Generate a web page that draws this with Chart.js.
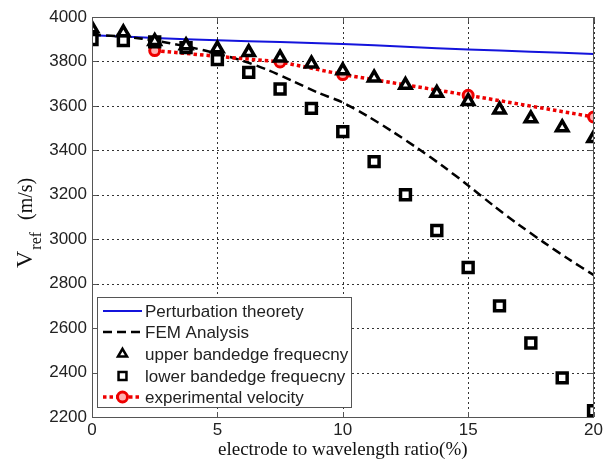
<!DOCTYPE html>
<html>
<head>
<meta charset="utf-8">
<script src="https://cdn.jsdelivr.net/npm/chart.js@4"></script>
<style>
  html, body { margin: 0; padding: 0; background: #fff; }
  #wrap { width: 606px; height: 463px; }
</style>
</head>
<body>
<div id="wrap"><canvas id="velChart" width="606" height="463"></canvas></div>
<script>
// ratio (%) values
const theoryRatio = [0, 2.5, 5, 7.5, 10, 12.5, 15, 17.5, 20];
const theoryVel   = [3918, 3906, 3895, 3887, 3879, 3866, 3854, 3844, 3834];

const femRatio = [0, 1, 2, 3, 4, 5, 6, 7, 8, 9, 10, 11, 12, 13, 14, 15, 16, 17, 18, 19, 20];
const femVel   = [3920, 3914, 3902, 3884, 3862, 3835, 3803, 3762, 3712, 3660, 3615, 3553, 3483, 3408, 3328, 3242, 3152, 3067, 2987, 2911, 2839];

const bandRatio = [0, 1.25, 2.5, 3.75, 5, 6.25, 7.5, 8.75, 10, 11.25, 12.5, 13.75, 15, 16.25, 17.5, 18.75, 20];
const upperVel  = [3948, 3930, 3891, 3872, 3858, 3841, 3817, 3790, 3759, 3727, 3694, 3658, 3621, 3583, 3543, 3503, 3454];
const lowerVel  = [3899, 3894, 3888, 3862, 3808, 3751, 3676, 3589, 3484, 3349, 3200, 3039, 2873, 2700, 2533, 2376, 2228];

const expRatio = [2.5, 5, 7.5, 10, 15, 20];
const expVel   = [3849, 3823, 3798, 3741, 3648, 3550];

const xTicks = [0, 5, 10, 15, 20];
const yTicks = [2200, 2400, 2600, 2800, 3000, 3200, 3400, 3600, 3800, 4000];

const pts = (xs, ys) => xs.map((x, i) => ({ x, y: ys[i] }));

const SANS = "'Liberation Sans', Arial, sans-serif";
const SERIF = "'Liberation Serif', 'Times New Roman', serif";

// dotted matlab grid + box
const gridBox = {
    id: "gridBox",
    beforeDatasetsDraw(chart) {
        const { ctx, chartArea: a, scales } = chart;
        ctx.save();
        ctx.strokeStyle = "#333";
        ctx.lineWidth = 1;
        ctx.setLineDash([2, 3]);
        ctx.beginPath();
        xTicks.forEach(v => {
            const px = Math.round(scales.x.getPixelForValue(v)) + 0.5;
            ctx.moveTo(px, a.top); ctx.lineTo(px, a.bottom);
        });
        yTicks.forEach(v => {
            const py = Math.round(scales.y.getPixelForValue(v)) + 0.5;
            ctx.moveTo(a.left, py); ctx.lineTo(a.right, py);
        });
        ctx.stroke();
        ctx.setLineDash([]);
        // small inward ticks
        ctx.strokeStyle = "#555";
        ctx.beginPath();
        xTicks.forEach(v => {
            const px = Math.round(scales.x.getPixelForValue(v)) + 0.5;
            ctx.moveTo(px, a.bottom); ctx.lineTo(px, a.bottom - 5);
            ctx.moveTo(px, a.top); ctx.lineTo(px, a.top + 5);
        });
        yTicks.forEach(v => {
            const py = Math.round(scales.y.getPixelForValue(v)) + 0.5;
            ctx.moveTo(a.left, py); ctx.lineTo(a.left + 5, py);
            ctx.moveTo(a.right, py); ctx.lineTo(a.right - 5, py);
        });
        ctx.stroke();
        ctx.restore();
    },
    afterDatasetsDraw(chart) {
        const { ctx, chartArea: a } = chart;
        ctx.save();
        ctx.strokeStyle = "#555";
        ctx.lineWidth = 1;
        ctx.strokeRect(Math.round(a.left) + 0.5, Math.round(a.top) + 0.5,
            Math.round(a.right - a.left) - 1, Math.round(a.bottom - a.top));
        ctx.restore();
    }
};

// y title with subscript
const yTitle = {
    id: "yTitle",
    afterDraw(chart) {
        const ctx = chart.ctx;
        ctx.save();
        ctx.translate(32, 268);
        ctx.rotate(-Math.PI / 2);
        ctx.fillStyle = "#111";
        ctx.textBaseline = "alphabetic";
        ctx.textAlign = "left";
        ctx.font = "24px " + SERIF;
        ctx.fillText("V", 0, 0);
        const w = ctx.measureText("V").width;
        ctx.font = "16px " + SERIF;
        ctx.fillText("ref", w + 1, 9);
        ctx.font = "20px " + SERIF;
        ctx.fillText("(m/s)", 48, 0);
        ctx.restore();
    }
};

const drawMarker = (ctx, ds, cx, cy) => {
    ctx.save();
    ctx.fillStyle = ds.pointBackgroundColor;
    ctx.strokeStyle = ds.pointBorderColor;
    ctx.lineWidth = ds.pointBorderWidth;
    ctx.beginPath();
    const r = ds.pointRadius;
    if (ds.pointStyle === "triangle") {
        ctx.moveTo(cx, cy - r);
        ctx.lineTo(cx + r * 0.87, cy + r * 0.5);
        ctx.lineTo(cx - r * 0.87, cy + r * 0.5);
        ctx.closePath();
    } else if (ds.pointStyle === "rect") {
        const s = r * Math.SQRT1_2;
        ctx.rect(cx - s, cy - s, 2 * s, 2 * s);
    } else {
        ctx.arc(cx, cy, r, 0, Math.PI * 2);
    }
    ctx.fill();
    ctx.stroke();
    ctx.restore();
};

// matlab style legend box
const legendBox = {
    id: "legendBox",
    afterDatasetsDraw(chart) {
        const ctx = chart.ctx;
        const x0 = 97, y0 = 297, x1 = 352, y1 = 408;
        ctx.save();
        ctx.fillStyle = "#fff";
        ctx.fillRect(x0, y0, x1 - x0, y1 - y0);
        ctx.strokeStyle = "#555";
        ctx.lineWidth = 1;
        ctx.strokeRect(x0 + 0.5, y0 + 0.5, x1 - x0 - 1, y1 - y0 - 1);
        const rows = [311, 332, 354, 376, 397];
        const sx0 = 103, sx1 = 142, sc = 122.5;
        chart.data.datasets.forEach((ds, i) => {
            const y = rows[i];
            if (ds.showLine) {
                ctx.save();
                ctx.strokeStyle = ds.borderColor;
                ctx.lineWidth = ds.borderWidth;
                ctx.setLineDash(ds.borderDash || []);
                ctx.beginPath();
                ctx.moveTo(sx0, y);
                ctx.lineTo(sx1, y);
                ctx.stroke();
                ctx.restore();
            }
            if (ds.pointRadius > 0) {
                drawMarker(ctx, Object.assign({}, ds, {
                    pointRadius: ds.pointStyle === "circle" ? ds.pointRadius : ds.pointRadius * 0.8,
                    pointBorderWidth: ds.pointStyle === "circle" ? ds.pointBorderWidth : 2.5
                }), sc, y);
            }
            ctx.fillStyle = "#222";
            ctx.font = "17px " + SANS;
            ctx.textAlign = "left";
            ctx.textBaseline = "middle";
            ctx.fillText(ds.label, 145, y + 1);
        });
        ctx.restore();
    }
};

const chart = new Chart(document.getElementById("velChart"), {
    type: "scatter",
    data: {
        datasets: [
            {
                label: "Perturbation theorety",
                data: pts(theoryRatio, theoryVel),
                showLine: true, borderColor: "#1414dc", borderWidth: 2,
                pointRadius: 0, tension: 0.3, order: 4
            },
            {
                label: "FEM Analysis",
                data: pts(femRatio, femVel),
                showLine: true, borderColor: "#000", borderWidth: 2.5, borderDash: [9, 5],
                pointRadius: 0, tension: 0.3, order: 3
            },
            {
                label: "upper bandedge frequecny",
                data: pts(bandRatio, upperVel),
                showLine: false, pointStyle: "triangle", pointRadius: 6.5,
                pointBackgroundColor: "#fff", pointBorderColor: "#000", pointBorderWidth: 3.5, order: 0
            },
            {
                label: "lower bandedge frequecny",
                data: pts(bandRatio, lowerVel),
                showLine: false, pointStyle: "rect", pointRadius: 7,
                pointBackgroundColor: "#fff", pointBorderColor: "#000", pointBorderWidth: 3.5, order: 1
            },
            {
                label: "experimental velocity",
                data: pts(expRatio, expVel),
                showLine: true, borderColor: "#ee0000", borderWidth: 3.5, borderDash: [3.5, 3],
                pointStyle: "circle", pointRadius: 5,
                pointBackgroundColor: "#ffb0b0", pointBorderColor: "#ee0000", pointBorderWidth: 3,
                tension: 0, order: 2
            }
        ]
    },
    options: {
        responsive: false,
        animation: false,
        layout: { padding: { left: 0, right: 8, top: 17, bottom: 0 } },
        plugins: { legend: { display: false }, tooltip: { enabled: false } },
        scales: {
            x: {
                type: "linear", min: 0, max: 20,
                afterFit: s => { s.height = 46; },
                afterBuildTicks: s => { s.ticks = xTicks.map(v => ({ value: v })); },
                grid: { display: false, drawTicks: false },
                border: { display: false },
                ticks: { color: "#222", font: { family: SANS, size: 17 }, padding: 3, maxRotation: 0,
                         callback: v => String(v) },
                title: { display: true, text: "electrode to wavelength ratio(%)", color: "#111",
                         font: { family: SERIF, size: 19 }, padding: { top: 0, bottom: 2 } }
            },
            y: {
                type: "linear", min: 2200, max: 4000,
                afterFit: s => { s.width = 92; },
                afterBuildTicks: s => { s.ticks = yTicks.map(v => ({ value: v })); },
                grid: { display: false, drawTicks: false },
                border: { display: false },
                ticks: { color: "#222", font: { family: SANS, size: 17 }, padding: 5,
                         callback: v => String(v) }
            }
        }
    },
    plugins: [gridBox, yTitle, legendBox]
});
</script>
</body>
</html>
